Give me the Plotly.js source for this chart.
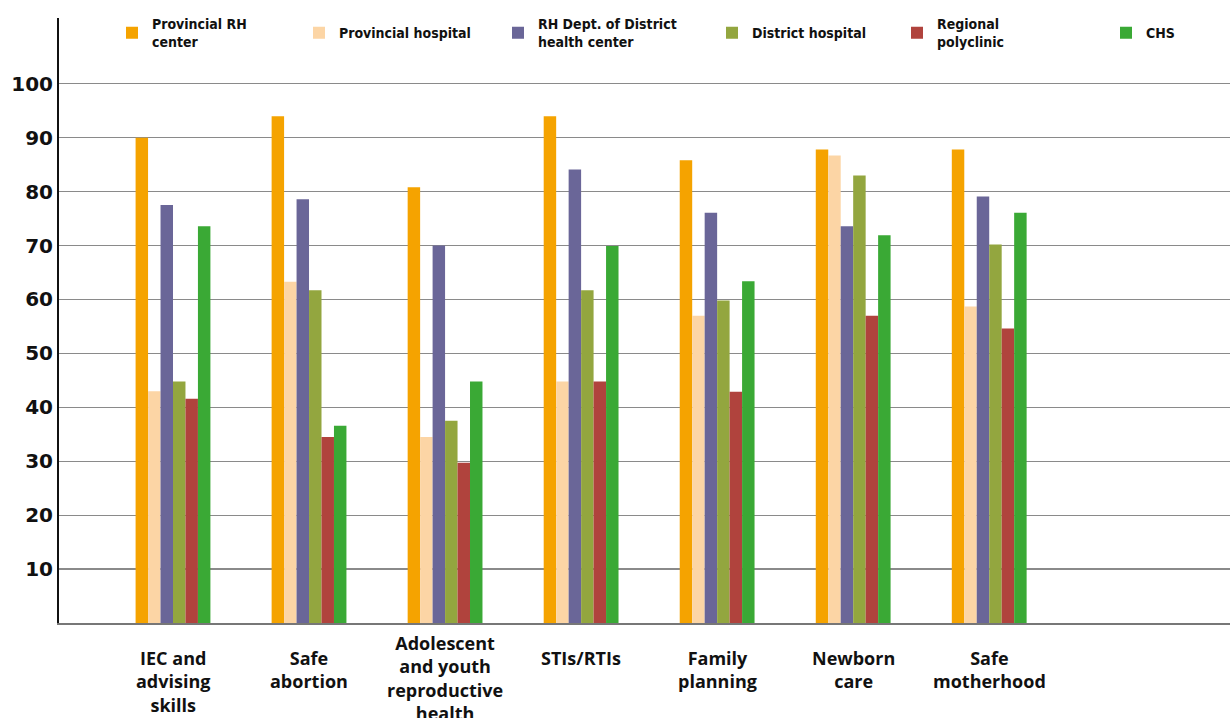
<!DOCTYPE html>
<html>
<head>
<meta charset="utf-8">
<script src="https://cdn.plot.ly/plotly-3.0.1.min.js"></script>
<style>html,body{margin:0;padding:0;background:#fff;}#chart{width:1230px;height:718px;}</style>
</head>
<body>
<div id="chart"></div>
<script>
const categories = ["IEC and<br>advising<br>skills", "Safe<br>abortion", "Adolescent<br>and youth<br>reproductive<br>health", "STIs/RTIs", "Family<br>planning", "Newborn<br>care", "Safe<br>motherhood"];
const seriesNames = ["Provincial RH<br>center", "Provincial hospital", "RH Dept. of District<br>health center", "District hospital", "Regional<br>polyclinic", "CHS"];
const seriesColors = ["#F5A300", "#FCD5A5", "#6A6698", "#93A63F", "#B0433D", "#3AA935"];
const provincialRH = [90, 94, 80.8, 94, 85.8, 87.8, 87.8];
const provincialHospital = [43, 63.3, 34.5, 44.8, 57, 86.7, 58.7];
const rhDeptDistrict = [77.5, 78.6, 70, 84.1, 76.1, 73.6, 79.1];
const districtHospital = [44.8, 61.7, 37.5, 61.7, 59.8, 83, 70.2];
const regionalPolyclinic = [41.6, 34.5, 29.7, 44.8, 42.9, 57, 54.6];
const chs = [73.6, 36.6, 44.8, 69.9, 63.4, 71.9, 76.1];
const tickVals = [10, 20, 30, 40, 50, 60, 70, 80, 90, 100];

const allValues = [provincialRH, provincialHospital, rhDeptDistrict, districtHospital, regionalPolyclinic, chs];
const labelFont = "Liberation Sans Narrow, DejaVu Sans Condensed, Open Sans, sans-serif";
const legendIds = ['legend', 'legend2', 'legend3', 'legend4', 'legend5', 'legend6'];
const legendLeftPx = [112, 299, 498, 712, 897, 1106];

const data = allValues.map((vals, i) => ({
  type: 'bar',
  x: categories,
  y: vals,
  name: seriesNames[i],
  legend: legendIds[i],
  marker: {color: seriesColors[i], line: {width: 0}},
  hoverinfo: 'skip'
}));

// category labels drawn as text under each category (long labels start higher)
const catAnnotations = categories.map(c => ({
  x: c, xref: 'x', y: 0, yref: 'paper',
  xanchor: 'center', yanchor: 'top',
  yshift: (c.split('<br>').length > 3) ? -6 : -21,
  text: c, showarrow: false, align: 'center',
  font: {family: "Open Sans, sans-serif", size: 18, color: '#111', weight: 'bold'}
}));

const layout = {
  width: 1230, height: 718,
  margin: {l: 59, r: 0, t: 18, b: 95, autoexpand: false},
  paper_bgcolor: '#ffffff', plot_bgcolor: '#ffffff',
  barmode: 'group', bargap: 0.45, bargroupgap: 0,
  showlegend: true,
  annotations: catAnnotations,
  xaxis: {
    type: 'category', range: [-0.838, 7.77],
    showgrid: false, zeroline: false,
    showline: true, linecolor: '#777', linewidth: 2,
    ticks: '', showticklabels: false,
    fixedrange: true
  },
  yaxis: {
    range: [0, 112.2], tickvals: tickVals, ticktext: tickVals.map(String),
    showgrid: true, gridcolor: '#8a8a8a', gridwidth: 1.3,
    zeroline: false, showline: true, linecolor: '#111', linewidth: 2,
    ticks: '', tickfont: {family: "DejaVu Sans, sans-serif", size: 20, color: '#111', weight: 'bold'},
    fixedrange: true
  },
  font: {family: "Open Sans, sans-serif"}
};

legendIds.forEach((id, i) => {
  layout[id] = {
    orientation: 'h', xref: 'paper', yref: 'paper',
    x: (legendLeftPx[i] - 59) / 1171, xanchor: 'left',
    y: 0.975, yanchor: 'middle', valign: 'middle',
    font: {family: labelFont, size: 14, color: '#111', weight: 'bold'},
    bgcolor: 'rgba(0,0,0,0)', borderwidth: 0, itemclick: false
  };
});

Plotly.newPlot('chart', data, layout, {staticPlot: true, displayModeBar: false});
</script>
</body>
</html>
